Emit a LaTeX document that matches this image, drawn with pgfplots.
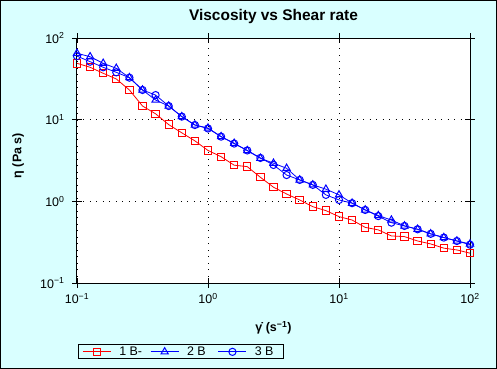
\documentclass[border=0pt]{standalone}
\usepackage{fontspec}
\setmainfont{Liberation Sans}
\usepackage{pgfplots}
\usepackage{pgfplotstable}
\pgfplotsset{compat=1.18}
\definecolor{bgcyan}{RGB}{217,255,255}
\definecolor{myred}{RGB}{255,0,0}
\definecolor{myblue}{RGB}{0,0,255}

\pgfplotstableread{
x        a      b      c
0.1      49     65     60
0.1259   43.8   59     51.3
0.1585   37     49     43.8
0.1995   31.5   42.6   38
0.2512   23.1   32.7   32.7
0.3162   14.7   23.1   23.1
0.3981   11.8   17.4   20
0.5012   8.7    14.7   14.7
0.6310   6.9    10.9   10.9
0.7943   5.5    8.6    8.6
1.0      4.2    7.9    7.8
1.259    3.52   6.2    6.2
1.585    2.77   5.14   5.1
1.995    2.66   4.18   4.2
2.512    1.97   3.37   3.4
3.162    1.49   2.93   2.79
3.981    1.23   2.54   2.10
5.012    1.04   1.83   1.83
6.310    0.86   1.59   1.59
7.943    0.77   1.41   1.20
10.0     0.65   1.20   1.04
12.59    0.59   0.95   0.95
15.85    0.48   0.785  0.785
19.95    0.447  0.67   0.66
25.12    0.377  0.59   0.548
31.62    0.37   0.50   0.50
39.81    0.327  0.455  0.455
50.12    0.301  0.40   0.40
63.10    0.267  0.36   0.36
79.43    0.254  0.327  0.327
100.0    0.232  0.301  0.295
}\datatable

\begin{document}
\begin{tikzpicture}
\path[use as bounding box] (-77bp,-86bp) rectangle (420bp,283bp);
\fill[bgcyan] (-77bp,-86bp) rectangle (420bp,283bp);
\fill[white] (0bp,0bp) rectangle (393bp,245bp);
\draw[line width=1bp] (-76.5bp,-85.5bp) rectangle (419.5bp,282.5bp);
\begin{axis}[
  at={(0,0)}, anchor=south west,
  scale only axis, width=393bp, height=245bp,
  xmode=log, ymode=log, log basis x=10, log basis y=10,
  xmin=0.1, xmax=100, ymin=0.1, ymax=100,
  xtick={0.1,1,10,100}, ytick={0.1,1,10,100},
  xticklabels={10\textsuperscript{−1},10\textsuperscript{0},10\textsuperscript{1},10\textsuperscript{2}},
  yticklabels={10\textsuperscript{−1},10\textsuperscript{0},10\textsuperscript{1},10\textsuperscript{2}},
  tick align=center,
  major tick length=10bp, minor tick length=6bp,
  every tick/.style={black, line width=0.8bp},
  axis line style={line width=1bp},
  grid=major,
  major grid style={black, line width=0.9bp, dash pattern=on 0.9bp off 5.6bp},
  ticklabel style={font=\fontsize{12.5}{14}\selectfont},
  xticklabel style={yshift=-2bp},
  yticklabel style={xshift=-4bp},
  title={Viscosity vs Shear rate},
  title style={font=\fontsize{15.5}{18}\selectfont\bfseries, at={(axis description cs:0.5,1)}, anchor=base, yshift=12bp},
  xlabel={\.{γ} (s\textsuperscript{−1})},
  ylabel={η (Pa s)},
  xlabel style={font=\fontsize{12.5}{14}\selectfont\bfseries, at={(axis description cs:0.5,-0.184)}, anchor=center},
  ylabel style={font=\fontsize{12.5}{14}\selectfont\bfseries, at={(axis description cs:-0.150,0.52)}, anchor=center},
  legend columns=3,
  legend style={at={(axis description cs:0.0025,-0.250)}, anchor=north west,
    draw=black, line width=1bp, fill=none,
    font=\fontsize{12.5}{14}\selectfont,
    inner xsep=4bp, inner ysep=0.5bp,
    nodes={inner ysep=1.5bp},
    /tikz/every odd column/.append style={column sep=6bp},
    /tikz/every even column/.append style={column sep=6bp}},
  legend cell align=left,
  legend image code/.code={\draw[mark repeat=2,mark phase=2,#1] plot coordinates {(0bp,0bp) (14bp,0bp) (28bp,0bp)};},
]
\addplot[myred, line width=0.8bp, mark=square, mark size=3.7bp, mark options={solid, line width=1bp}] table[x=x,y=a] {\datatable};
\addlegendentry{\makebox[23bp][l]{1 B-}}
\addplot[myblue, line width=0.8bp, mark=triangle, mark size=4.2bp, mark options={solid, line width=1bp}] table[x=x,y=b] {\datatable};
\addlegendentry{\makebox[23bp][l]{2 B}}
\addplot[myblue, line width=0.8bp, mark=o, mark size=3.6bp, mark options={solid, line width=1bp}] table[x=x,y=c] {\datatable};
\addlegendentry{\makebox[23bp][l]{3 B}}
\end{axis}
\end{tikzpicture}
\end{document}
